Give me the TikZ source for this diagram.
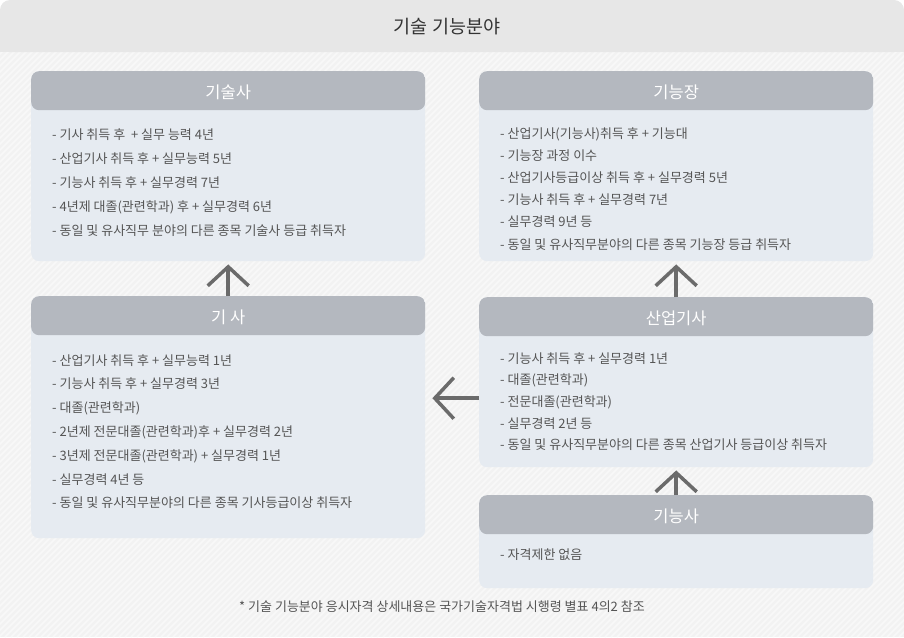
\documentclass[tikz,border=0pt]{standalone}
\usepackage{fontspec}
\setmainfont{Noto Sans CJK KR}
\usetikzlibrary{arrows.meta, positioning}

\definecolor{pagebg}{HTML}{F2F2F2}
\definecolor{stripe}{HTML}{F8F8F8}
\definecolor{barbg}{HTML}{E7E7E7}
\definecolor{headbg}{HTML}{B4B8BF}
\definecolor{bodybg}{HTML}{E6EBF1}
\definecolor{itemtxt}{HTML}{555555}
\definecolor{flowgray}{HTML}{6B6B6B}

\begin{document}
\begin{tikzpicture}[
  x=1pt, y=-1pt,
  cert/.style={rectangle, rounded corners=8pt, fill=bodybg, anchor=north west, minimum width=394pt, inner sep=0pt,
    path picture={\fill[headbg] (path picture bounding box.north west) rectangle ([yshift=-39pt]path picture bounding box.north east);}},
  certname/.style={text=white, inner sep=0pt, font=\fontsize{16.5}{16.5}\selectfont},
  items/.style={anchor=north west, align=left, inner sep=0pt, text=itemtxt, font=\fontsize{13}{#1}\selectfont},
  flow/.style={draw=flowgray, line width=3.5pt, -{Straight Barb[length=19pt, width=41pt]}}
]

% background and heading bar
\useasboundingbox (0,0) rectangle (904,637);
\fill[pagebg] (0,40) rectangle (904,637);
\begin{scope}
  \clip (0,52) rectangle (904,637);
  \foreach \s in {0,6,...,1548}
    \draw[stripe, line width=1.6pt] (\s-637,637) -- (\s,0);
\end{scope}
\fill[barbg, rounded corners=10pt] (0,0) rectangle (904,52);
\fill[barbg] (0,30) rectangle (904,52);
\node[text=black!80, font=\fontsize{18.5}{18.5}\selectfont] (heading) at (447,27) {기술 기능분야};

% -------------------------
% LEFT COLUMN
% -------------------------
\node[cert, minimum height=190pt] (gisulsa) at (31,71) {};
\node[certname] at ([yshift=-21pt]gisulsa.north) {기술사};
\node[items=24pt] (gisulsa-list) at ([xshift=21pt, yshift=-57pt]gisulsa.north west) {%
- 기사 취득 후 \ + 실무 능력 4년\\
- 산업기사 취득 후 + 실무능력 5년\\
- 기능사 취득 후 + 실무경력 7년\\
- 4년제 대졸(관련학과) 후 + 실무경력 6년\\
- 동일 및 유사직무 분야의 다른 종목 기술사 등급 취득자};

\node[cert, minimum height=242pt] (gisa) at (31,296) {};
\node[certname] at ([yshift=-21pt]gisa.north) {기 사};
\node[items=23.8pt] (gisa-list) at ([xshift=21pt, yshift=-58pt]gisa.north west) {%
- 산업기사 취득 후 + 실무능력 1년\\
- 기능사 취득 후 + 실무경력 3년\\
- 대졸(관련학과)\\
- 2년제 전문대졸(관련학과)후 + 실무경력 2년\\
- 3년제 전문대졸(관련학과) + 실무경력 1년\\
- 실무경력 4년 등\\
- 동일 및 유사직무분야의 다른 종목 기사등급이상 취득자};

% -------------------------
% RIGHT COLUMN
% -------------------------
\node[cert, minimum height=190pt] (gineungjang) at (479,71) {};
\node[certname] at ([yshift=-21pt]gineungjang.north) {기능장};
\node[items=22.2pt] (gineungjang-list) at ([xshift=21pt, yshift=-56pt]gineungjang.north west) {%
- 산업기사(기능사)취득 후 + 기능대\\
- 기능장 과정 이수\\
- 산업기사등급이상 취득 후 + 실무경력 5년\\
- 기능사 취득 후 + 실무경력 7년\\
- 실무경력 9년 등\\
- 동일 및 유사직무분야의 다른 종목 기능장 등급 취득자};

\node[cert, minimum height=170pt] (sanup) at (479,297) {};
\node[certname] at ([yshift=-21pt]sanup.north) {산업기사};
\node[items=21.7pt] (sanup-list) at ([xshift=21pt, yshift=-55pt]sanup.north west) {%
- 기능사 취득 후 + 실무경력 1년\\
- 대졸(관련학과)\\
- 전문대졸(관련학과)\\
- 실무경력 2년 등\\
- 동일 및 유사직무분야의 다른 종목 산업기사 등급이상 취득자};

\node[cert, minimum height=93pt] (gineungsa) at (479,495) {};
\node[certname] at ([yshift=-21pt]gineungsa.north) {기능사};
\node[items=22pt] (gineungsa-list) at ([xshift=21pt, yshift=-54pt]gineungsa.north west) {- 자격제한 없음};

% Progression
\draw[flow, shorten >=3pt] (gisa) -- (gisulsa);
\draw[flow, shorten >=3pt] (sanup) -- (gineungjang);
\draw[flow, shorten >=3pt] (gineungsa) -- (sanup);
\draw[flow, shorten >=7pt] ([yshift=-16pt]sanup.west) -- ([yshift=-16pt]sanup.west -| gisa.east);

% footnote
\node[text=itemtxt, font=\fontsize{13}{13}\selectfont] (note) at (442,607) {* 기술 기능분야 응시자격 상세내용은 국가기술자격법 시행령 별표 4의2 참조};

\end{tikzpicture}
\end{document}
